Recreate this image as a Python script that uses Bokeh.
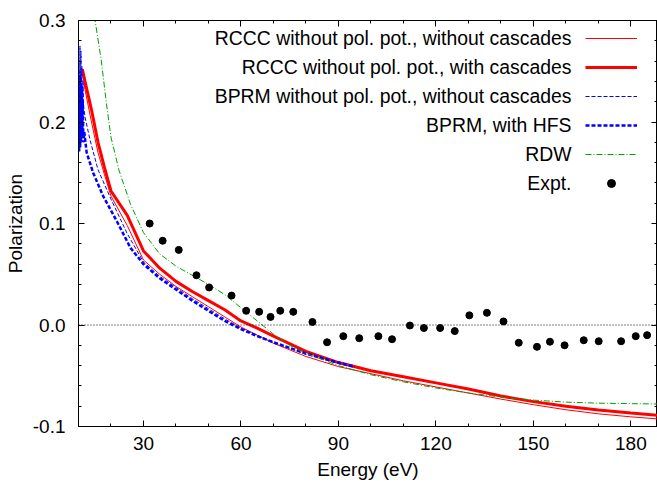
from bokeh.plotting import figure
from bokeh.models import (Range1d, FixedTicker, NumeralTickFormatter, LinearAxis,
                          Legend, LegendItem, Label, Span)
from bokeh.embed import file_html
from bokeh.resources import INLINE

# ---------------- data ----------------
rccc_nc_e = [11.5, 12, 14, 16, 18, 20, 25, 30, 35, 40, 45, 50, 55, 60, 65, 70, 80, 90,
             100, 110, 120, 130, 140, 150, 160, 170, 180, 188.2]
rccc_nc_p = [0.245, 0.232, 0.200, 0.170, 0.148, 0.127, 0.098, 0.064, 0.050, 0.038, 0.028,
             0.018, 0.008, -0.002, -0.010, -0.018, -0.031, -0.041, -0.048, -0.055, -0.061,
             -0.067, -0.073, -0.0785, -0.0835, -0.0875, -0.0905, -0.0925]

rccc_c_e = [11.2, 12, 14, 16, 18, 20, 25, 30, 35, 40, 45, 50, 55, 60, 65, 70, 80, 90,
            100, 110, 120, 130, 140, 150, 160, 170, 180, 188.2]
rccc_c_p = [0.252, 0.240, 0.212, 0.180, 0.155, 0.132, 0.108, 0.073, 0.056, 0.043, 0.033,
            0.024, 0.015, 0.004, -0.003, -0.011, -0.026, -0.037, -0.045, -0.051, -0.057,
            -0.063, -0.070, -0.0755, -0.0800, -0.0838, -0.0868, -0.0890]

bprm_e = [10.1, 10.3, 10.45, 10.6, 10.75, 10.9, 11.05, 11.2, 11.4, 11.6, 12.0, 13.5, 16, 20,
          25, 30, 35, 40, 45, 50, 55, 60, 65, 70, 80, 90, 95]
bprm_p = [0.26, 0.18, 0.275, 0.19, 0.27, 0.20, 0.255, 0.205, 0.24, 0.215, 0.205, 0.183,
          0.153, 0.124, 0.090, 0.062, 0.048, 0.037, 0.026, 0.016, 0.006, -0.003, -0.010,
          -0.017, -0.029, -0.038, -0.042]

hfs_e = [10.05, 10.2, 10.35, 10.5, 10.65, 10.8, 10.95, 11.1, 11.3, 11.5, 11.8, 12.5, 14.5,
         17.6, 22, 26, 30, 35, 40, 45, 50, 55, 60, 65, 70, 80, 90, 95]
hfs_p = [0.24, 0.17, 0.25, 0.175, 0.245, 0.18, 0.235, 0.185, 0.22, 0.18, 0.19, 0.17, 0.150,
         0.127, 0.101, 0.076, 0.060, 0.046, 0.035, 0.024, 0.014, 0.004, -0.004, -0.011,
         -0.017, -0.028, -0.037, -0.041]

rdw_e = [14.5, 15.1, 17, 18.6, 20, 22.5, 26, 30, 35, 40, 45, 50, 55, 60, 65, 70, 75, 80, 85,
         90, 100, 110, 120, 130, 140, 150, 160, 170, 180, 188.2]
rdw_p = [0.315, 0.300, 0.261, 0.218, 0.185, 0.152, 0.119, 0.091, 0.070, 0.058, 0.049, 0.040,
         0.030, 0.017, 0.004, -0.009, -0.020, -0.028, -0.034, -0.040, -0.049, -0.056, -0.062,
         -0.067, -0.071, -0.074, -0.076, -0.077, -0.0775, -0.0778]

expt_e = [31.9, 35.9, 40.85, 46.3, 50.2, 57.1, 61.6, 65.6, 69.1, 72.1, 76.1, 82.0, 86.5,
          91.5, 96.4, 102.3, 106.5, 112.0, 116.3, 121.3, 125.8, 130.3, 135.7, 140.8, 145.5,
          151.1, 155.1, 159.6, 165.5, 170.1, 177.0, 181.5, 185.0]
expt_p = [0.100, 0.083, 0.074, 0.049, 0.037, 0.029, 0.014, 0.013, 0.008, 0.014, 0.013,
          0.003, -0.017, -0.011, -0.013, -0.011, -0.014, -0.0005, -0.003, -0.003, -0.006,
          0.0095, 0.012, 0.0035, -0.0175, -0.0215, -0.0165, -0.020, -0.015, -0.016, -0.016,
          -0.011, -0.010]

legend_labels = ["RCCC without pol. pot., without cascades",
                 "RCCC without pol. pot., with cascades",
                 "BPRM without pol. pot., without cascades",
                 "BPRM, with HFS",
                 "RDW",
                 "Expt."]

x_major = [30, 60, 90, 120, 150, 180]
x_minor = [10, 20, 40, 50, 70, 80, 100, 110, 130, 140, 160, 170]
y_major = [-0.1, 0.0, 0.1, 0.2, 0.3]
y_minor = [-0.08, -0.06, -0.04, -0.02, 0.02, 0.04, 0.06, 0.08, 0.12, 0.14,
           0.16, 0.18, 0.22, 0.24, 0.26, 0.28]

FONT = "Liberation Sans"
FS = "19px"
LFS = "19.4px"

# ---------------- figure ----------------
p = figure(width=657, height=482, output_backend="svg", toolbar_location=None,
           x_range=Range1d(10, 188.2), y_range=Range1d(-0.1, 0.3),
           min_border_left=78, min_border_right=0, min_border_top=20, min_border_bottom=53)
p.xgrid.visible = False
p.ygrid.visible = False
p.outline_line_color = "black"
p.outline_line_width = 1
p.background_fill_color = "white"
p.border_fill_color = "white"

xt = FixedTicker(ticks=x_major, minor_ticks=x_minor)
yt = FixedTicker(ticks=y_major, minor_ticks=y_minor)

for ax, tk in ((p.xaxis[0], xt), (p.yaxis[0], yt)):
    ax.ticker = tk
    ax.major_tick_in = 6
    ax.major_tick_out = 0
    ax.minor_tick_in = 3
    ax.minor_tick_out = 0
    ax.axis_line_color = "black"
    ax.major_label_text_font = FONT
    ax.major_label_text_font_size = FS
    ax.major_label_text_color = "black"
    ax.axis_label_text_font = FONT
    ax.axis_label_text_font_size = FS
    ax.axis_label_text_font_style = "normal"
    ax.axis_label_text_color = "black"

p.xaxis[0].axis_label = "Energy (eV)"
p.xaxis[0].major_label_standoff = 10
p.xaxis[0].axis_label_standoff = 6
p.yaxis[0].axis_label = "Polarization"
p.yaxis[0].formatter = NumeralTickFormatter(format="0.0")
p.yaxis[0].major_label_standoff = 13
p.yaxis[0].axis_label_standoff = 4


def tick_only_axis(ticks, length):
    return LinearAxis(ticker=FixedTicker(ticks=[], minor_ticks=ticks),
                      minor_tick_in=length, minor_tick_out=0,
                      major_tick_in=0, major_tick_out=0,
                      major_label_standoff=0, axis_label_standoff=0,
                      axis_line_color="black")


p.add_layout(tick_only_axis(x_major, 6), "above")
p.add_layout(tick_only_axis(x_minor, 3), "above")
p.add_layout(tick_only_axis(y_major, 6), "right")
p.add_layout(tick_only_axis(y_minor, 3), "right")

p.add_layout(Span(location=0, dimension="width", line_color="black", line_width=1,
                  line_dash="1 2"))

r1 = p.line(rccc_nc_e, rccc_nc_p, line_color="#ff0000", line_width=1)
r2 = p.line(rccc_c_e, rccc_c_p, line_color="#ff0000", line_width=3)
r3 = p.line(bprm_e, bprm_p, line_color="#0000ff", line_width=1, line_dash="4 2")
r4 = p.line(hfs_e, hfs_p, line_color="#0000ff", line_width=2.5, line_dash="4 2")
r5 = p.line(rdw_e, rdw_p, line_color="#00a000", line_width=1, line_dash="6 2 1 2")
r6 = p.scatter(expt_e, expt_p, size=7, color="black")

rends = [r1, r2, r3, r4, r5, r6]
legend = Legend(items=[LegendItem(label=" ", renderers=[r]) for r in rends],
                location=(506.5, 233.5), orientation="vertical",
                glyph_width=52, glyph_height=20, label_height=20, label_width=0,
                label_standoff=0, spacing=9, padding=0, margin=0,
                border_line_alpha=0, background_fill_alpha=0,
                label_text_font_size="1px", click_policy="none")
p.add_layout(legend)

row_y = [388.3, 359.5, 330.3, 301.3, 272.3, 243.5]
for txt, yy in zip(legend_labels, row_y):
    p.add_layout(Label(x=493, y=yy, x_units="screen", y_units="screen", text=txt,
                       text_align="right", text_baseline="middle", text_font=FONT,
                       text_font_size=LFS, text_color="black"))

open("out.html", "w").write(file_html(p, INLINE))
